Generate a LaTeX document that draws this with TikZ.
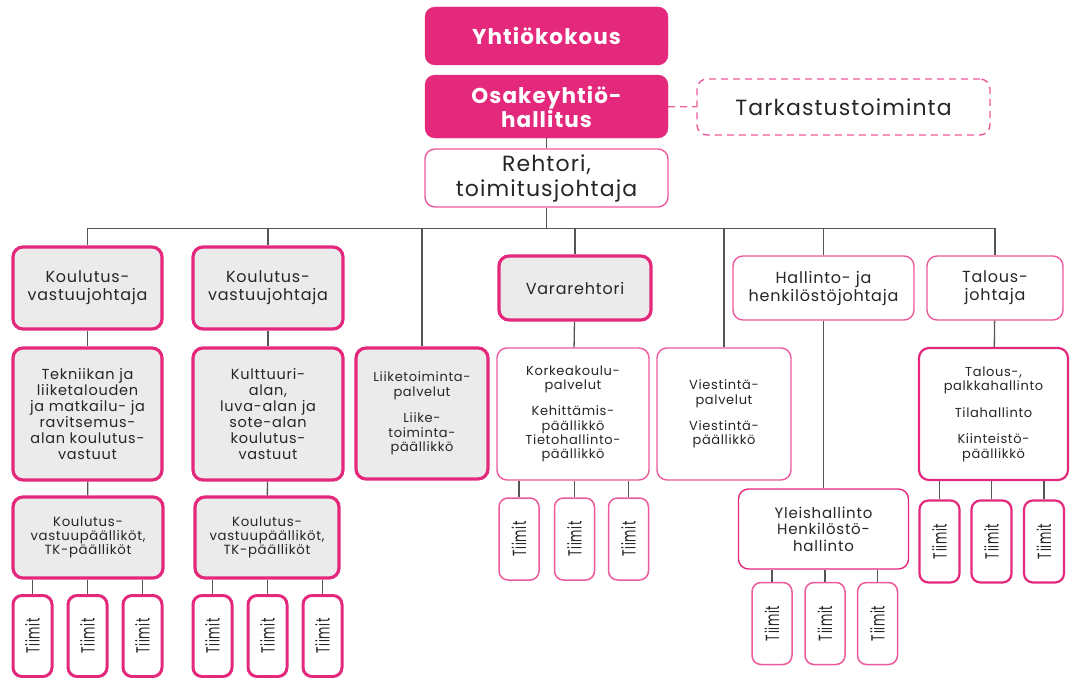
\documentclass[tikz,border=0pt]{standalone}
\usepackage{fontspec}
\setmainfont{Poppins}[LetterSpace=5]
\definecolor{brand}{HTML}{E4297D}
\definecolor{brandlight}{HTML}{EC5A9C}
\definecolor{boxgray}{HTML}{EBEBEB}
\definecolor{linegray}{HTML}{555555}
\newcommand{\tiimtext}{\rotatebox{90}{\scalebox{0.63}[1]{Tiimit}}}
\begin{document}
\begin{tikzpicture}[x=1pt,y=-1pt,
  every node/.style={align=center, inner sep=2pt, text=black!85},
  topbox/.style={draw=brand, fill=brand, rounded corners=10pt, minimum width=243, text=white, font=\bfseries\fontsize{21.5}{24}\selectfont},
  graybox/.style={draw=brand, line width=3.2pt, fill=boxgray, rounded corners=10pt},
  whitebox/.style={draw=brandlight, line width=1.4pt, fill=white, rounded corners=10pt},
  tiimthick/.style={draw=brand, line width=3pt, fill=white, rounded corners=9pt, minimum width=39, minimum height=81, font=\fontsize{19}{20}\selectfont},
  tiimthin/.style={draw=brandlight, line width=1.5pt, fill=white, rounded corners=9pt, minimum width=40, minimum height=82, font=\fontsize{19}{20}\selectfont},
  conn/.style={draw=linegray, line width=1.3pt}]
\useasboundingbox (0,0) rectangle (1070,677);

% Top of the organisation
\node[topbox, minimum height=58] (yhtio) at (546.5,36) {Yhtiökokous};
\node[topbox, minimum height=63] (hallitus) at (546.5,106.5) {Osakeyhtiö-\\hallitus};
\node[whitebox, dashed, dash pattern=on 7pt off 5pt, minimum width=293, minimum height=56, font=\fontsize{22}{25}\selectfont] (tarkastus) at (843.5,107) {Tarkastustoiminta};
\node[whitebox, minimum width=243, minimum height=58, font=\fontsize{22}{25}\selectfont] (rehtori) at (546.5,178) {Rehtori,\\toimitusjohtaja};
\coordinate (bus) at (546.5,228.5);

% Second level
\node[graybox, minimum width=149, minimum height=82, font=\fontsize{16}{18}\selectfont] (kvj1) at (87.5,288) {Koulutus-\\vastuujohtaja};
\node[graybox, minimum width=150, minimum height=82, font=\fontsize{16}{18}\selectfont] (kvj2) at (268,288) {Koulutus-\\vastuujohtaja};
\node[graybox, minimum width=152, minimum height=64, font=\fontsize{16}{18}\selectfont] (vara) at (575,288) {Vararehtori};
\node[whitebox, minimum width=181, minimum height=64, font=\fontsize{16}{18}\selectfont] (hallinto) at (823.5,288) {Hallinto- ja\\henkilöstöjohtaja};
\node[whitebox, minimum width=136, minimum height=64, font=\fontsize{16}{18}\selectfont] (talous) at (995,288) {Talous-\\johtaja};

% Third level
\node[graybox, minimum width=149, minimum height=132, font=\fontsize{14.5}{16}\selectfont] (tekn) at (87.5,414) {Tekniikan ja\\liiketalouden\\ja matkailu- ja\\ravitsemus-\\alan koulutus-\\vastuut};
\node[graybox, minimum width=150, minimum height=132, font=\fontsize{14.5}{16}\selectfont] (kult) at (268,414) {Kulttuuri-\\alan,\\luva-alan ja\\sote-alan\\koulutus-\\vastuut};
\node[graybox, minimum width=132, minimum height=131, font=\fontsize{13}{14.5}\selectfont] (liike) at (422,413.5) {Liiketoiminta-\\palvelut\\[12pt]Liike-\\toiminta-\\päällikkö};
\node[whitebox, minimum width=152, minimum height=132, font=\fontsize{13}{14.3}\selectfont] (korkea) at (573,414) {Korkeakoulu-\\palvelut\\[12pt]Kehittämis-\\päällikkö\\Tietohallinto-\\päällikkö};
\node[whitebox, minimum width=134, minimum height=132, font=\fontsize{13}{14.3}\selectfont] (viest) at (724,414) {Viestintä-\\palvelut\\[12pt]Viestintä-\\päällikkö};
\node[whitebox, line width=2.2pt, draw=brand, minimum width=149, minimum height=132, font=\fontsize{13}{14.5}\selectfont] (palkka) at (993.5,414) {Talous-,\\palkkahallinto\\[12pt]Tilahallinto\\[12pt]Kiinteistö-\\päällikkö};

% Fourth level
\node[graybox, minimum width=150, minimum height=81, font=\fontsize{13.3}{14}\selectfont] (kvp1) at (88,537.5) {Koulutus-\\vastuupäälliköt,\\TK-päälliköt};
\node[graybox, minimum width=144, minimum height=81, font=\fontsize{13.3}{14}\selectfont] (kvp2) at (267,537.5) {Koulutus-\\vastuupäälliköt,\\TK-päälliköt};
\node[whitebox, draw=brand, minimum width=170, minimum height=80, font=\fontsize{15}{16.5}\selectfont] (yleis) at (823.5,529) {Yleishallinto\\Henkilöstö-\\hallinto};

% Connections
\draw[conn] (hallitus) -- (rehtori);
\draw[draw=brandlight, line width=1.4pt, dash pattern=on 7pt off 5pt] (hallitus) -- (tarkastus);
\draw[conn] (rehtori) -- (bus);
\draw[conn] (kvj1.north) |- (bus) -| (talous.north);
\foreach \n in {kvj2,liike,vara,viest,hallinto}
  \draw[conn] (\n.north) -- (\n.north |- bus);
\draw[conn] (kvj1) -- (tekn);
\draw[conn] (tekn) -- (kvp1);
\draw[conn] (kvj2) -- (kult);
\draw[conn] (kult) -- (kvp2);
\draw[conn] (vara) -- (korkea);
\draw[conn] (hallinto) -- (yleis);
\draw[conn] (talous) -- (palkka);

% Teams
\foreach \x [count=\i] in {32.5,87.5,142.5} {
  \node[tiimthick] (ta\i) at (\x,636) {\tiimtext};
  \draw[conn] (ta\i.north) -- (ta\i.north |- kvp1.south);
}
\foreach \x [count=\i] in {212.5,267.5,322.5} {
  \node[tiimthick] (tb\i) at (\x,636) {\tiimtext};
  \draw[conn] (tb\i.north) -- (tb\i.north |- kvp2.south);
}
\foreach \x [count=\i] in {519,574.5,628.5} {
  \node[tiimthin] (tc\i) at (\x,539) {\tiimtext};
  \draw[conn] (tc\i.north) -- (tc\i.north |- korkea.south);
}
\foreach \x [count=\i] in {772,825,877.5} {
  \node[tiimthin] (td\i) at (\x,623.5) {\tiimtext};
  \draw[conn] (td\i.north) -- (td\i.north |- yleis.south);
}
\foreach \x [count=\i] in {939.5,991.5,1044} {
  \node[tiimthin, line width=2.2pt, draw=brand] (te\i) at (\x,541.5) {\tiimtext};
  \draw[conn] (te\i.north) -- (te\i.north |- palkka.south);
}
\end{tikzpicture}
\end{document}
